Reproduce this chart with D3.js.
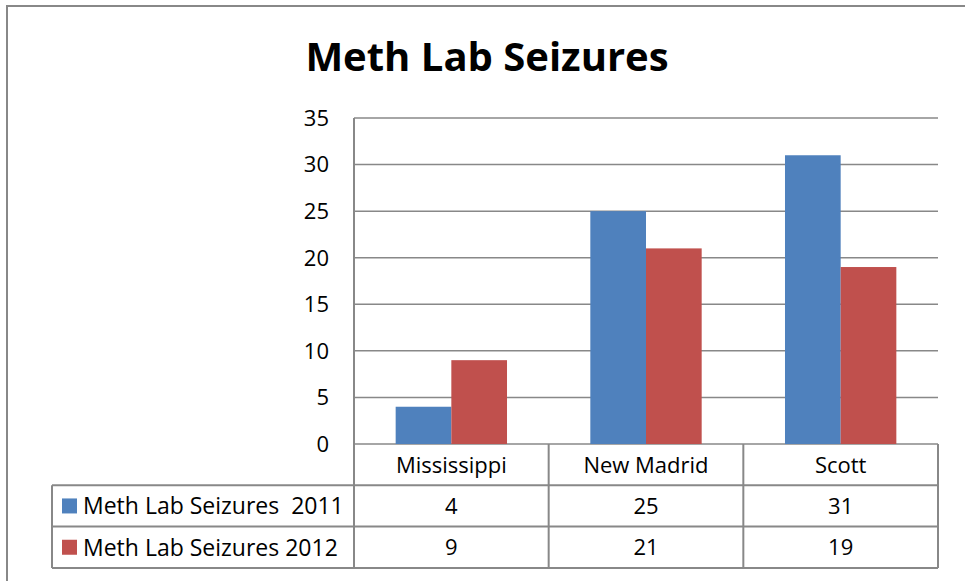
<!DOCTYPE html>
<html>
<head>
    <title>Meth Lab Seizures</title>
    <script src="https://d3js.org/d3.v7.min.js"></script>
    <style>
        body { margin: 0; background: #fff; }
        text { font-family: "Open Sans", "Noto Sans", sans-serif; fill: #000; white-space: pre; }
    </style>
</head>
<body>
    <div id="chart"></div>
    <script>
        // chart data
        var counties = ["Mississippi", "New Madrid", "Scott"];
        var seriesNames = ["Meth Lab Seizures  2011", "Meth Lab Seizures 2012"];
        var seizures2011 = [4, 25, 31];
        var seizures2012 = [9, 21, 19];
        var yTicks = [0, 5, 10, 15, 20, 25, 30, 35];
        var seriesColors = ["#4F81BD", "#C0504D"];

        var series = [seizures2011, seizures2012];

        var width = 965, height = 581;
        var plotLeft = 354, plotRight = 938, plotTop = 118, plotBottom = 444;
        var rowH = 41.3;
        var tableLeft = 52;
        var lineColor = "#888888";

        var svg = d3.select("#chart")
            .append("svg")
            .attr("width", width)
            .attr("height", height);

        // outer frame
        svg.append("rect")
            .attr("x", 7).attr("y", 6)
            .attr("width", 980).attr("height", 600)
            .attr("fill", "none")
            .attr("stroke", lineColor)
            .attr("stroke-width", 2);

        svg.append("text")
            .attr("x", 487).attr("y", 71)
            .attr("text-anchor", "middle")
            .attr("font-size", "40px")
            .attr("font-weight", "bold")
            .text("Meth Lab Seizures");

        var x = d3.scaleBand()
            .domain(counties)
            .range([plotLeft, plotRight])
            .padding(0);

        var bw = x.bandwidth();
        var xInner = d3.scaleBand()
            .domain(d3.range(series.length))
            .range([bw * 0.214, bw * 0.786])
            .padding(0);

        var y = d3.scaleLinear()
            .domain([0, 35])
            .range([plotBottom, plotTop]);

        // gridlines
        svg.selectAll("line.grid")
            .data(yTicks)
            .enter()
            .append("line")
            .attr("class", "grid")
            .attr("x1", plotLeft).attr("x2", plotRight)
            .attr("y1", function(d) { return y(d); })
            .attr("y2", function(d) { return y(d); })
            .attr("stroke", lineColor)
            .attr("stroke-width", 1.5);

        svg.selectAll("text.ytick")
            .data(yTicks)
            .enter()
            .append("text")
            .attr("class", "ytick")
            .attr("x", 329)
            .attr("y", function(d) { return y(d); })
            .attr("dy", "0.36em")
            .attr("text-anchor", "end")
            .attr("font-size", "22px")
            .text(function(d) { return d; });

        // bars
        series.forEach(function(vals, si) {
            svg.selectAll("rect.s" + si)
                .data(vals)
                .enter()
                .append("rect")
                .attr("class", "s" + si)
                .attr("x", function(d, i) { return x(counties[i]) + xInner(si); })
                .attr("y", function(d) { return y(d); })
                .attr("width", xInner.bandwidth())
                .attr("height", function(d) { return y(0) - y(d); })
                .attr("fill", seriesColors[si]);
        });

        // data table
        var tableBottom = plotBottom + rowH * 3;
        var t = svg.append("g");
        t.append("line")
            .attr("x1", plotLeft).attr("x2", plotLeft)
            .attr("y1", plotTop).attr("y2", tableBottom);
        [1, 2, 3].forEach(function(r) {
            t.append("line")
                .attr("x1", tableLeft).attr("x2", plotRight)
                .attr("y1", plotBottom + rowH * r).attr("y2", plotBottom + rowH * r);
        });
        t.append("line")
            .attr("x1", tableLeft).attr("x2", tableLeft)
            .attr("y1", plotBottom + rowH).attr("y2", tableBottom);
        counties.forEach(function(c) {
            t.append("line")
                .attr("x1", x(c) + bw).attr("x2", x(c) + bw)
                .attr("y1", plotBottom).attr("y2", tableBottom);
        });
        t.selectAll("line")
            .attr("stroke", lineColor)
            .attr("stroke-width", 2);

        svg.selectAll("text.cat")
            .data(counties)
            .enter()
            .append("text")
            .attr("class", "cat")
            .attr("x", function(d) { return x(d) + bw / 2; })
            .attr("y", plotBottom + rowH / 2)
            .attr("dy", "0.36em")
            .attr("text-anchor", "middle")
            .attr("font-size", "22px")
            .text(function(d) { return d; });

        series.forEach(function(vals, si) {
            var rowY = plotBottom + rowH * (si + 1) + rowH / 2;
            svg.append("rect")
                .attr("x", 62).attr("y", rowY - 7.5)
                .attr("width", 15).attr("height", 15)
                .attr("fill", seriesColors[si]);
            svg.append("text")
                .attr("x", 83).attr("y", rowY)
                .attr("dy", "0.36em")
                .attr("font-size", "23px")
                .text(seriesNames[si]);
            svg.selectAll("text.v" + si)
                .data(vals)
                .enter()
                .append("text")
                .attr("class", "v" + si)
                .attr("x", function(d, i) { return x(counties[i]) + bw / 2; })
                .attr("y", rowY)
                .attr("dy", "0.36em")
                .attr("text-anchor", "middle")
                .attr("font-size", "22px")
                .text(function(d) { return d; });
        });
    </script>
</body>
</html>
